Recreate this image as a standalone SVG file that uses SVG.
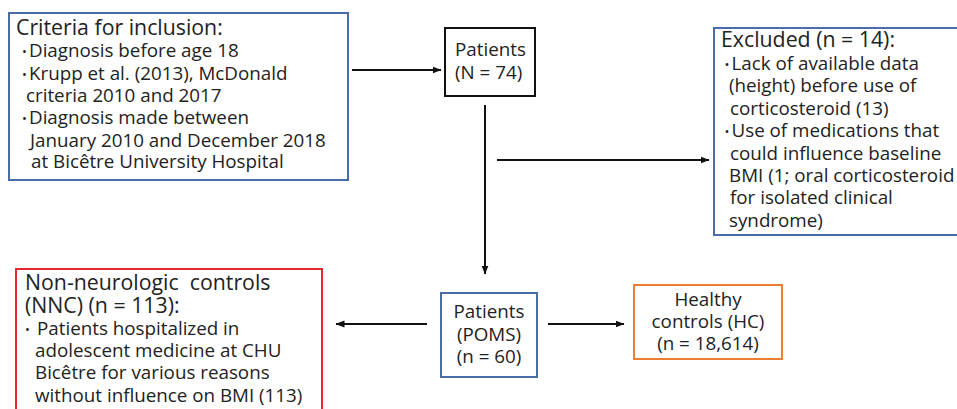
<svg xmlns="http://www.w3.org/2000/svg" width="957" height="409" viewBox="0 0 957 409">
<style>
.box{fill:#fff;stroke-width:2}
.blue{stroke:#4a6ca8}
.black{stroke:#111}
.red{stroke:#e8262b}
.orange{stroke:#ed7d31}
text{font-family:"Open Sans","Liberation Sans",sans-serif;fill:#222}
.t{font-size:21.3px}
.b{font-size:18.8px}
.d{font-size:13px}
.c{text-anchor:middle}
.conn{stroke:#111;stroke-width:2;fill:none}
</style>
<defs>
<marker id="ah" markerWidth="9" markerHeight="8" refX="8.5" refY="4" orient="auto" markerUnits="userSpaceOnUse">
<path d="M0,0.5 L9,4 L0,7.5 Z" fill="#111"/>
</marker>
</defs>
<rect width="957" height="409" fill="#fff"/>
<g id="criteria">
<rect class="box blue" x="9" y="13" width="339" height="167"/>
<text class="t" x="16" y="35">Criteria for inclusion:</text>
<text class="b" y="57"><tspan class="d" x="22" dy="-1.5">•</tspan><tspan x="29" dy="1.5">Diagnosis before age 18</tspan></text>
<text class="b" y="80"><tspan class="d" x="22" dy="-1.5">•</tspan><tspan x="29" dy="1.5">Krupp et al. (2013), McDonald</tspan></text>
<text class="b" x="26" y="102">criteria 2010 and 2017</text>
<text class="b" y="124"><tspan class="d" x="22" dy="-1.5">•</tspan><tspan x="29" dy="1.5">Diagnosis made between</tspan></text>
<text class="b" x="30" y="147">January 2010 and December 2018</text>
<text class="b" x="31" y="168">at Bicêtre University Hospital</text>
</g>
<g id="patients">
<rect class="box black" x="445" y="28" width="90" height="68"/>
<text class="b" x="455" y="56">Patients</text>
<text class="b" x="455" y="79">(N = 74)</text>
</g>
<g id="excluded">
<rect class="box blue" x="714" y="28" width="250" height="207"/>
<text class="t" x="721" y="47">Excluded (n = 14):</text>
<text class="b" y="70"><tspan class="d" x="724.5" dy="-1.5">•</tspan><tspan x="731.5" dy="1.5">Lack of available data</tspan></text>
<text class="b" x="729" y="92">(height) before use of</text>
<text class="b" x="730" y="115">corticosteroid (13)</text>
<text class="b" y="137"><tspan class="d" x="724.5" dy="-1.5">•</tspan><tspan x="731.5" dy="1.5">Use of medications that</tspan></text>
<text class="b" x="730" y="160">could influence baseline</text>
<text class="b" x="729" y="182">BMI (1; oral corticosteroid</text>
<text class="b" x="730" y="204">for isolated clinical</text>
<text class="b" x="729" y="227">syndrome)</text>
</g>
<g id="nnc">
<rect class="box red" x="16" y="269" width="306" height="160"/>
<text class="t" x="25" y="290" style="white-space:pre">Non-neurologic  controls</text>
<text class="t" x="25" y="313">(NNC) (n = 113):</text>
<text class="b" y="335"><tspan class="d" x="25" dy="-1.5">•</tspan><tspan x="37" dy="1.5">Patients hospitalized in</tspan></text>
<text class="b" x="35" y="357">adolescent medicine at CHU</text>
<text class="b" x="35" y="379">Bicêtre for various reasons</text>
<text class="b" x="35" y="402">without influence on BMI (113)</text>
</g>
<g id="poms">
<rect class="box blue" x="441" y="293" width="96" height="84"/>
<text class="b c" x="489" y="318">Patients</text>
<text class="b c" x="489" y="341">(POMS)</text>
<text class="b c" x="489" y="363">(n = 60)</text>
</g>
<g id="hc">
<rect class="box orange" x="634" y="285" width="148" height="74"/>
<text class="b c" x="708" y="306">Healthy</text>
<text class="b c" x="708" y="328">controls (HC)</text>
<text class="b c" x="708" y="350">(n = 18,614)</text>
</g>
<g id="connectors">
<line class="conn" x1="352" y1="70" x2="441" y2="70" marker-end="url(#ah)"/>
<line class="conn" x1="485" y1="105" x2="485" y2="274" marker-end="url(#ah)"/>
<line class="conn" x1="497" y1="160" x2="709" y2="160" marker-end="url(#ah)"/>
<line class="conn" x1="427" y1="324" x2="336" y2="324" marker-end="url(#ah)"/>
<line class="conn" x1="548" y1="324" x2="624" y2="324" marker-end="url(#ah)"/>
</g>
</svg>
